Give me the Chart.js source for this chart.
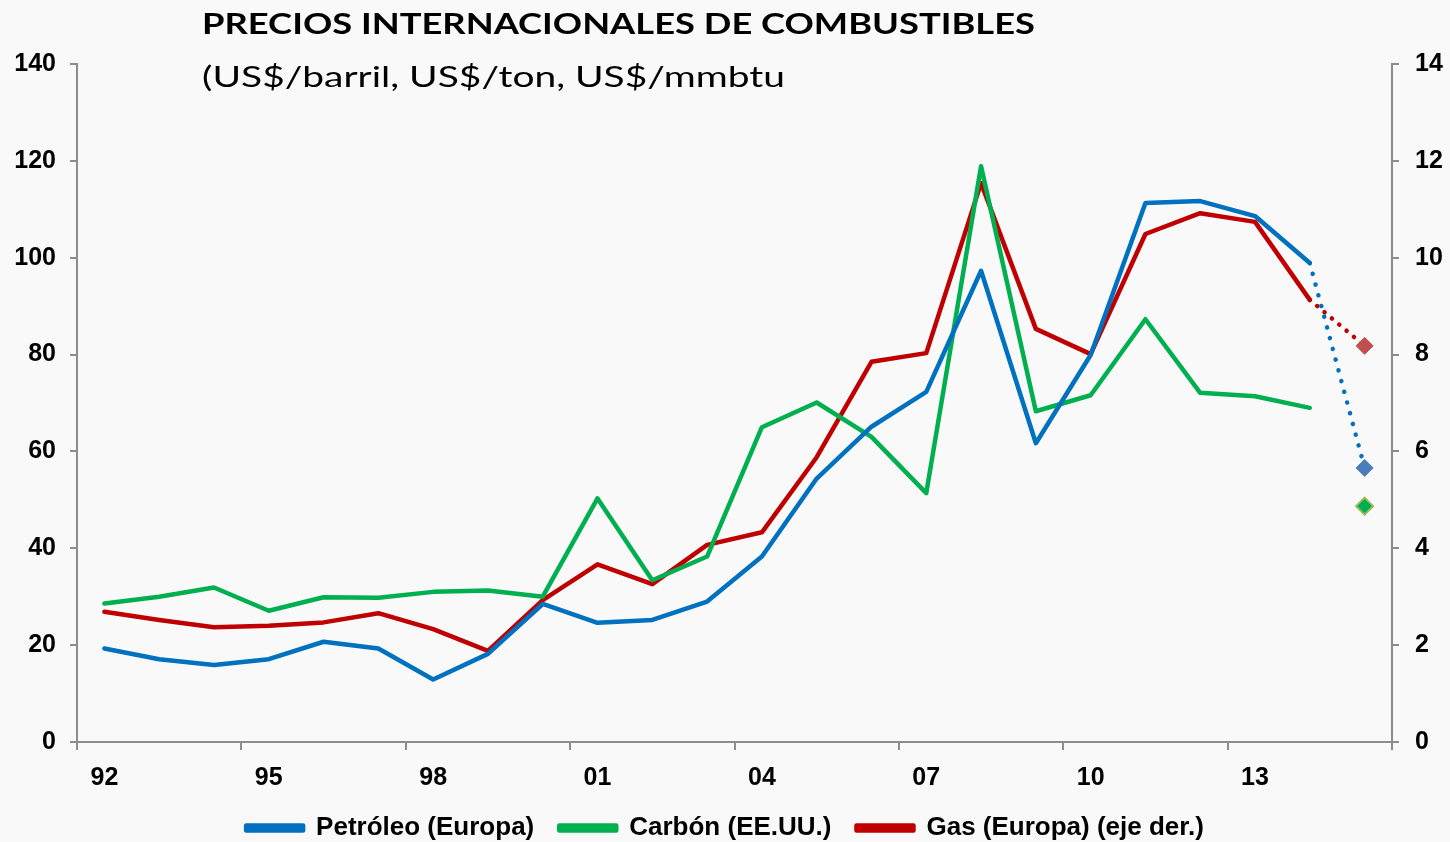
<!DOCTYPE html>
<html>
<head>
<meta charset="utf-8">
<script src="https://cdn.jsdelivr.net/npm/chart.js@4.4.1/dist/chart.umd.min.js"></script>
<style>
html,body{margin:0;padding:0;background:#f9f9f9;}
#wrap{width:1450px;height:842px;position:relative;}
</style>
</head>
<body>
<div id="wrap"><canvas id="c" width="1450" height="842"></canvas></div>
<script>
const titleText = 'PRECIOS INTERNACIONALES DE COMBUSTIBLES';
const subtitleText = '(US$/barril, US$/ton, US$/mmbtu';
const years = ['92','93','94','95','96','97','98','99','00','01','02','03','04','05','06','07','08','09','10','11','12','13','14','15'];
const petroleo = [19.3,17.1,15.9,17.1,20.7,19.3,12.9,18.2,28.5,24.6,25.2,29.0,38.3,54.4,65.1,72.3,97.3,61.7,79.9,111.3,111.7,108.6,98.9,56.6];
const carbon = [28.6,30.0,31.9,27.1,29.9,29.8,31.0,31.3,30.0,50.3,33.4,38.3,65.0,70.1,63.0,51.4,118.9,68.3,71.6,87.3,72.1,71.4,69.0,48.7];
const gas = [2.69,2.52,2.37,2.40,2.47,2.66,2.33,1.88,2.93,3.67,3.26,4.07,4.33,5.88,7.85,8.03,11.54,8.53,8.01,10.49,10.92,10.74,9.13,8.18];
const leftTicks = {min:0, max:140, step:20};
const rightTicks = {min:0, max:14, step:2};

const LAST = years.length - 1;
const AXIS = '#8c8c8c';
const tickFont = {family:'"Liberation Sans", Arial, sans-serif', size:25, weight:'bold'};

function markerRadius(){ return years.map((_, i) => i === LAST ? 8.5 : 0); }

function stretchedText(c, text, font, x, y, targetW){
  c.font = font;
  const w = c.measureText(text).width;
  c.save();
  c.translate(x, y);
  c.scale(targetW / w, 1);
  c.fillText(text, 0, 0);
  c.restore();
}

const bgPlugin = {
  id:'bg',
  beforeDraw(chart){
    const c = chart.ctx; c.save(); c.fillStyle = '#f9f9f9'; c.fillRect(0,0,chart.width,chart.height); c.restore();
  },
  afterDraw(chart){
    const c = chart.ctx; c.save();
    c.fillStyle = '#000'; c.textBaseline = 'alphabetic'; c.textAlign = 'left';
    stretchedText(c, titleText, 'bold 29px Lato, "Open Sans", sans-serif', 202, 34, 833);
    stretchedText(c, subtitleText, '28px Lato, "Open Sans", sans-serif', 202, 87, 583);
    c.restore();
  }
};

new Chart(document.getElementById('c'), {
  type:'line',
  data:{
    labels: years,
    datasets:[
      {label:'Petróleo (Europa)', data: petroleo, yAxisID:'y', borderColor:'#0070c0', backgroundColor:'#0070c0',
       pointBackgroundColor:'#4a7ebb', pointBorderColor:'#4a7ebb', pointStyle:'rectRot', pointRadius: markerRadius(), pointBorderWidth:1,
       segment:{borderDash: ctx => ctx.p1DataIndex === LAST ? [0.1, 11] : undefined}},
      {label:'Carbón (EE.UU.)', data: carbon, yAxisID:'y', borderColor:'#00b050', backgroundColor:'#00b050',
       pointBackgroundColor:'#00b050', pointBorderColor:'#9bbb59', pointStyle:'rectRot', pointRadius: markerRadius(), pointBorderWidth:2,
       segment:{borderColor: ctx => ctx.p1DataIndex === LAST ? 'rgba(0,0,0,0)' : undefined}},
      {label:'Gas (Europa) (eje der.)', data: gas, yAxisID:'y1', borderColor:'#c00000', backgroundColor:'#c00000',
       pointBackgroundColor:'#c0504d', pointBorderColor:'#c0504d', pointStyle:'rectRot', pointRadius: markerRadius(), pointBorderWidth:1,
       segment:{borderDash: ctx => ctx.p1DataIndex === LAST ? [0.1, 9.5] : undefined}}
    ]
  },
  options:{
    responsive:false, animation:false,
    devicePixelRatio:1,
    elements:{line:{borderWidth:4.5, tension:0, borderCapStyle:'round', borderJoinStyle:'round'}, point:{hoverRadius:0}},
    layout:{padding:{top:64, left:0, right:0, bottom:0}},
    plugins:{
      tooltip:{enabled:false},
      legend:{position:'bottom', align:'center', maxHeight:52,
        labels:{boxWidth:57, boxHeight:5, padding:25, color:'#000', font:{family:'"Liberation Sans", Arial, sans-serif', size:26, weight:'bold'}}}
    },
    scales:{
      x:{
        offset:true,
        grid:{offset:true, drawOnChartArea:false, drawTicks:true, tickLength:8, lineWidth:2,
          color: ctx => (ctx.index === undefined || ctx.index % 3 === 0) ? AXIS : 'rgba(0,0,0,0)'},
        border:{display:true, color:AXIS, width:2},
        ticks:{autoSkip:false, maxRotation:0, padding:13, color:'#000', font:tickFont,
          callback:(v, i) => i % 3 === 0 ? years[i] : ''},
        afterFit: s => { s.height = 48; }
      },
      y:{
        position:'left', min:leftTicks.min, max:leftTicks.max,
        grid:{drawOnChartArea:false, drawTicks:true, tickLength:7, color:AXIS, lineWidth:2},
        border:{display:true, color:AXIS, width:2},
        ticks:{stepSize:leftTicks.step, padding:14, color:'#000', font:tickFont},
        afterFit: s => { s.width = 77; }
      },
      y1:{
        position:'right', min:rightTicks.min, max:rightTicks.max,
        grid:{drawOnChartArea:false, drawTicks:true, tickLength:7, color:AXIS, lineWidth:2},
        border:{display:true, color:AXIS, width:2},
        ticks:{stepSize:rightTicks.step, padding:16, color:'#000', font:tickFont},
        afterFit: s => { s.width = 58; }
      }
    }
  },
  plugins:[bgPlugin]
});
</script>
</body>
</html>
